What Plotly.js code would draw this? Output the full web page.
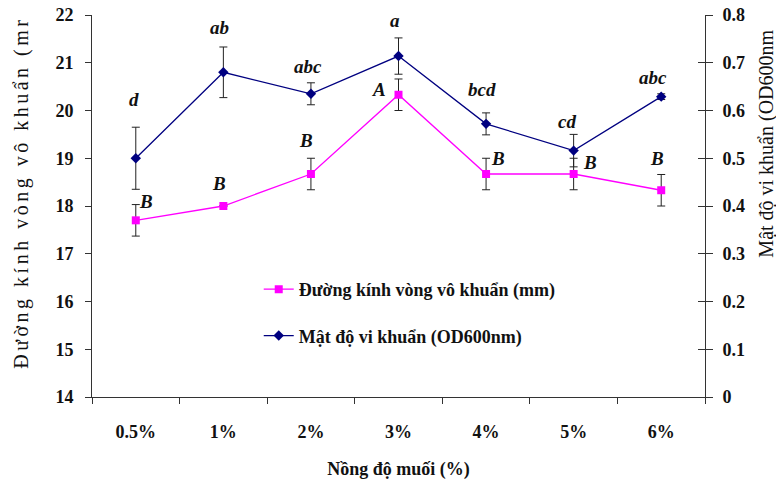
<!DOCTYPE html>
<html>
<head>
<meta charset="utf-8">
<script src="https://cdn.plot.ly/plotly-3.0.1.min.js"></script>
<style>
  html, body { margin: 0; padding: 0; background: #fff; }
  #chart { width: 776px; height: 480px; }
  #chart text { font-family: "Liberation Serif", "Times New Roman", serif !important; }
  /* widely tracked left axis title */
  #chart g.annotation[data-index="14"] text { letter-spacing: 3.5px; }
</style>
</head>
<body>
<div id="chart"></div>
<script>
// Salt concentration categories
const saltLevels = ['0.5%', '1%', '2%', '3%', '4%', '5%', '6%'];

// Inhibition zone diameter (mm), left axis
const zoneDiameter = [17.7, 18.0, 18.67, 20.33, 18.67, 18.67, 18.33];
const zoneError    = [0.33, 0.0, 0.33, 0.33, 0.33, 0.33, 0.33];
const zoneGroups   = ['B', 'B', 'B', 'A', 'B', 'B', 'B'];

// Bacterial density (OD600nm), right axis
const density      = [0.50, 0.68, 0.635, 0.714, 0.572, 0.516, 0.629];
const densityError = [0.065, 0.053, 0.023, 0.038, 0.023, 0.034, 0.006];
const densityGroups = ['d', 'ab', 'abc', 'a', 'bcd', 'cd', 'abc'];

// Pixel offsets of the significance letters from their points
const zoneLabelDx    = [10, -4, -5, -20, 12, 16, -4];
const zoneLabelDy    = [19, 23, 34, 5, 16, 12, 32];
const densityLabelDx = [-2, -4, -3, -4, -4, -7, -8];
const densityLabelDy = [59, 45, 27, 36, 34, 29, 19];

const SERIF = 'Liberation Serif';

const traces = [
  {
    x: saltLevels, y: zoneDiameter, type: 'scatter', mode: 'lines+markers',
    name: 'Đường kính vòng vô khuẩn (mm)', legendgroup: 'g1',
    line: { color: '#FF00FF', width: 1.3 },
    marker: { symbol: 'square', size: 8, color: '#FF00FF' },
    error_y: { type: 'data', array: zoneError, visible: true, color: '#222', thickness: 1, width: 4 },
    yaxis: 'y'
  },
  {
    x: saltLevels, y: density, type: 'scatter', mode: 'lines+markers',
    name: 'Mật độ vi khuẩn (OD600nm)', legendgroup: 'g2',
    line: { color: '#000080', width: 1.3 },
    marker: { symbol: 'diamond', size: 8, color: '#000080' },
    error_y: { type: 'data', array: densityError, visible: true, color: '#222', thickness: 1, width: 4 },
    yaxis: 'y2'
  }
];

const letterFont = { family: SERIF, size: 19, color: '#111', weight: 'bold', style: 'italic' };

const annotations = [];
saltLevels.forEach((c, i) => {
  annotations.push({
    x: c, y: zoneDiameter[i], xref: 'x', yref: 'y',
    text: zoneGroups[i], showarrow: false,
    xshift: zoneLabelDx[i], yshift: zoneLabelDy[i], font: letterFont
  });
  annotations.push({
    x: c, y: density[i], xref: 'x', yref: 'y2',
    text: densityGroups[i], showarrow: false,
    xshift: densityLabelDx[i], yshift: densityLabelDy[i], font: letterFont
  });
});

// Vertical axis titles
annotations.push({
  xref: 'paper', yref: 'paper', x: -0.114, y: 0.535,
  xanchor: 'center', yanchor: 'middle',
  text: 'Đường kính vòng vô khuẩn (mr', textangle: -90, showarrow: false,
  font: { family: SERIF, size: 20, color: '#111' }
});
annotations.push({
  xref: 'paper', yref: 'paper', x: 1.1, y: 0.664,
  xanchor: 'center', yanchor: 'middle',
  text: 'Mật độ vi khuẩn (OD600nm', textangle: -90, showarrow: false,
  font: { family: SERIF, size: 20, color: '#111' }
});

const tickFont = { family: SERIF, size: 18, color: '#111', weight: 'bold' };

const layout = {
  width: 776, height: 480,
  margin: { l: 92, r: 71, t: 15, b: 83 },
  paper_bgcolor: '#fff', plot_bgcolor: '#fff',
  font: { family: SERIF },
  showlegend: true,
  legend: {
    x: 0.272, y: 0.33, xanchor: 'left', yanchor: 'top',
    bgcolor: 'rgba(0,0,0,0)', tracegroupgap: 20,
    font: { family: SERIF, size: 18, color: '#111', weight: 'bold' }
  },
  xaxis: {
    type: 'category', range: [-0.5, 6.5],
    showline: true, linecolor: '#333', linewidth: 1,
    ticks: 'outside', tickson: 'boundaries', ticklen: 6, tickcolor: '#333',
    showgrid: false, zeroline: false,
    tickfont: tickFont, ticklabelstandoff: 18,
    title: { text: 'Nồng độ muối (%)', font: { family: SERIF, size: 18, color: '#111', weight: 'bold' }, standoff: 22 }
  },
  yaxis: {
    range: [14, 22], dtick: 1,
    showline: true, linecolor: '#333', linewidth: 1,
    ticks: 'outside', ticklen: 6, tickcolor: '#333',
    showgrid: false, zeroline: false,
    tickfont: tickFont, ticklabelstandoff: 8
  },
  yaxis2: {
    range: [0, 0.8], dtick: 0.1, overlaying: 'y', side: 'right',
    showline: true, linecolor: '#333', linewidth: 1,
    ticks: 'outside', ticklen: 7, tickcolor: '#333',
    showgrid: false, zeroline: false,
    tickfont: tickFont, ticklabelstandoff: 6
  },
  // inner half of the crossing tick marks on the right axis
  yaxis3: {
    range: [0, 0.8], dtick: 0.1, overlaying: 'y', side: 'right',
    showline: false, ticks: 'inside', ticklen: 7, tickcolor: '#333',
    showticklabels: false, showgrid: false, zeroline: false
  },
  annotations: annotations
};

// a hidden trace keeps the inner tick axis drawn
traces.push({ x: [saltLevels[0]], y: [0], yaxis: 'y3', mode: 'markers', marker: { opacity: 0 }, showlegend: false, hoverinfo: 'skip' });

Plotly.newPlot('chart', traces, layout, { displayModeBar: false, staticPlot: true });
</script>
</body>
</html>
